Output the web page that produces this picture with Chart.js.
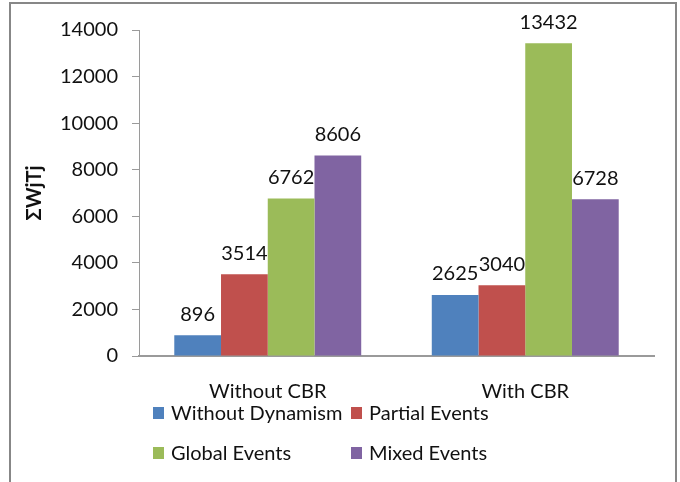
<!DOCTYPE html>
<html>
<head>
<meta charset="utf-8">
<script src="https://cdn.jsdelivr.net/npm/chart.js@4/dist/chart.umd.min.js"></script>
<style>
  html, body { margin: 0; padding: 0; background: #fff; overflow: hidden; }
  .frame {
    position: absolute;
    left: 9px;
    top: 2px;
    width: 664px;
    height: 500px;
    border: 2px solid #878787;
    border-bottom: none;
  }
  .frame canvas { position: absolute; left: 0; top: 0; }
</style>
</head>
<body>
<div class="frame">
  <canvas id="chart" width="664" height="480"></canvas>
</div>
<script>
// Total weighted tardiness per scenario
const categories = ['Without CBR', 'With CBR'];
const withoutDynamism = [896, 2625];
const partialEvents = [3514, 3040];
const globalEvents = [6762, 13432];
const mixedEvents = [8606, 6728];
const yTicks = [0, 2000, 4000, 6000, 8000, 10000, 12000, 14000];

const FONT = 'Lato, "Noto Sans", sans-serif';
const TEXT = '#111';
const AXIS = '#9a9a9a';

// Value printed above every bar
const barValues = {
  id: 'barValues',
  afterDatasetsDraw(chart) {
    const ctx = chart.ctx;
    ctx.save();
    ctx.font = '20px ' + FONT;
    ctx.fillStyle = TEXT;
    ctx.textAlign = 'center';
    ctx.textBaseline = 'middle';
    chart.data.datasets.forEach((ds, i) => {
      chart.getDatasetMeta(i).data.forEach((bar, j) => {
        ctx.fillText(String(ds.data[j]), bar.x, bar.y - 21);
      });
    });
    ctx.restore();
  }
};

// Two-column legend under the category labels
const gridLegend = {
  id: 'gridLegend',
  afterDraw(chart) {
    const ctx = chart.ctx;
    const colX = [142, 340];
    const rowY = [409, 449];
    ctx.save();
    ctx.font = '20px ' + FONT;
    ctx.textBaseline = 'middle';
    chart.data.datasets.forEach((ds, i) => {
      const x = colX[i % 2];
      const y = rowY[Math.floor(i / 2)];
      ctx.fillStyle = ds.backgroundColor;
      ctx.fillRect(x, y - 6, 11, 12);
      ctx.fillStyle = TEXT;
      ctx.fillText(ds.label, x + 18, y + 1);
    });
    ctx.restore();
  }
};

const ctx = document.getElementById('chart').getContext('2d');
new Chart(ctx, {
  type: 'bar',
  data: {
    labels: categories,
    datasets: [
      { label: 'Without Dynamism', data: withoutDynamism, backgroundColor: '#4F81BD' },
      { label: 'Partial Events', data: partialEvents, backgroundColor: '#C0504D' },
      { label: 'Global Events', data: globalEvents, backgroundColor: '#9BBB59' },
      { label: 'Mixed Events', data: mixedEvents, backgroundColor: '#8064A2' }
    ]
  },
  options: {
    responsive: false,
    animation: false,
    layout: { padding: { top: 23, right: 21, left: 0, bottom: 0 } },
    datasets: {
      bar: { barPercentage: 1, categoryPercentage: 0.726, borderWidth: 0 }
    },
    plugins: {
      legend: { display: false },
      tooltip: { enabled: false }
    },
    scales: {
      x: {
        grid: { display: false, drawTicks: false },
        border: { color: AXIS, width: 2 },
        ticks: { color: TEXT, padding: 24, font: { family: FONT, size: 20 } },
        afterFit(scale) { scale.height = 128; }
      },
      y: {
        min: 0,
        max: 14000,
        afterBuildTicks(scale) { scale.ticks = yTicks.map(v => ({ value: v })); },
        grid: { drawOnChartArea: false, drawTicks: true, tickLength: 7, color: AXIS, lineWidth: 1 },
        border: { color: AXIS, width: 1 },
        ticks: {
          color: TEXT,
          padding: 14,
          font: { family: FONT, size: 20 },
          callback: (value) => String(value)
        },
        title: {
          display: true,
          text: 'ΣWjTj',
          color: TEXT,
          padding: { top: 12 },
          font: { family: FONT, size: 20, weight: 'bold' }
        },
        afterFit(scale) { scale.width = 128; }
      }
    }
  },
  plugins: [barValues, gridLegend]
});
</script>
</body>
</html>
